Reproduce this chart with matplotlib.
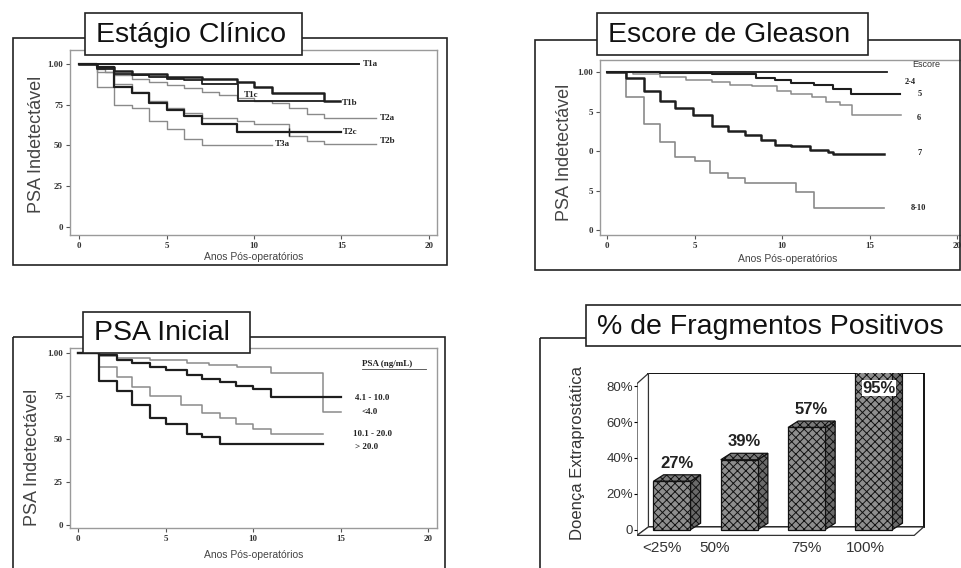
import matplotlib
matplotlib.use('Agg')
import matplotlib.pyplot as plt
from matplotlib.patches import Rectangle, Polygon

W, H = 962, 568

# --- Estágio Clínico (Kaplan-Meier) ---
t1a_t = [0, 16]
t1a_s = [1.0, 1.0]
t1b_t = [0, 1, 2, 3, 5, 7, 9, 10, 11, 14, 14.9]
t1b_s = [1.0, 0.98, 0.96, 0.94, 0.92, 0.91, 0.89, 0.86, 0.82, 0.77, 0.77]
t1c_t = [0, 1, 2, 3, 4, 5, 6, 7, 9.1, 14]
t1c_s = [1.0, 0.97, 0.94, 0.93, 0.92, 0.91, 0.90, 0.88, 0.77, 0.77]
t2a_t = [0, 1, 1.5, 2, 3, 4, 5, 6, 7, 8, 9, 10, 11, 12, 13, 14, 17]
t2a_s = [1.0, 0.97, 0.95, 0.93, 0.91, 0.89, 0.87, 0.85, 0.83, 0.81, 0.79, 0.77, 0.76, 0.73, 0.69, 0.67, 0.67]
t2b_t = [0, 1, 2, 3, 4, 5, 6, 7, 9, 10, 12, 13, 14, 17]
t2b_s = [1.0, 0.95, 0.88, 0.83, 0.77, 0.73, 0.70, 0.67, 0.65, 0.63, 0.56, 0.53, 0.51, 0.51]
t2c_t = [0, 1, 2, 3, 4, 5, 6, 7, 9, 15]
t2c_s = [1.0, 0.98, 0.86, 0.82, 0.76, 0.72, 0.68, 0.63, 0.58, 0.58]
t2c_cens = [12]
t3a_t = [0, 1, 2, 3, 4, 5, 6, 7, 11]
t3a_s = [1.0, 0.86, 0.75, 0.73, 0.65, 0.60, 0.54, 0.50, 0.50]

# --- Escore de Gleason ---
g24_t = [0, 16]
g24_s = [1.0, 1.0]
g5_t = [0, 3, 6, 7.5, 8.5, 9.6, 10.5, 11.8, 12.9, 13.9, 16.7]
g5_s = [1.0, 0.995, 0.99, 0.985, 0.965, 0.95, 0.93, 0.915, 0.895, 0.86, 0.86]
g6_t = [0, 1.5, 3, 4.5, 6, 7, 8.3, 9.7, 10.5, 11.7, 12.5, 13.3, 14, 16.8]
g6_s = [1.0, 0.99, 0.97, 0.95, 0.94, 0.92, 0.91, 0.88, 0.86, 0.84, 0.81, 0.79, 0.73, 0.73]
g7_t = [0, 1.1, 2.1, 3, 3.9, 4.9, 6, 6.9, 7.9, 8.8, 9.6, 10.5, 11.6, 12.6, 12.9, 15.8]
g7_s = [1.0, 0.96, 0.88, 0.82, 0.77, 0.73, 0.66, 0.63, 0.60, 0.57, 0.54, 0.53, 0.51, 0.495, 0.48, 0.48]
g810_t = [0, 1.1, 2.1, 3, 3.9, 5, 5.9, 6.9, 7.9, 10.8, 11.8, 15.8]
g810_s = [1.0, 0.84, 0.67, 0.56, 0.46, 0.44, 0.36, 0.33, 0.30, 0.24, 0.14, 0.14]

# --- PSA Inicial ---
plt4_t = [0, 1.2, 2.2, 4.1, 6.2, 7.5, 9.1, 11, 14, 15]
plt4_s = [1.0, 0.98, 0.97, 0.96, 0.94, 0.93, 0.92, 0.885, 0.655, 0.655]
p4_10_t = [0, 1.2, 2.2, 3.1, 4.1, 5, 6.2, 7.1, 8.1, 9, 10, 11, 15]
p4_10_s = [1.0, 0.99, 0.96, 0.94, 0.92, 0.90, 0.87, 0.85, 0.83, 0.81, 0.79, 0.745, 0.745]
p10_20_t = [0, 1.2, 2.2, 3.1, 4.1, 5.9, 7.1, 8.1, 9, 10, 11, 14]
p10_20_s = [1.0, 0.92, 0.86, 0.80, 0.75, 0.70, 0.65, 0.62, 0.59, 0.56, 0.53, 0.53]
pgt20_t = [0, 1.2, 2.2, 3.1, 4.1, 5, 6.2, 7.1, 8.1, 14]
pgt20_s = [1.0, 0.84, 0.78, 0.70, 0.62, 0.59, 0.53, 0.51, 0.47, 0.47]

# --- % de Fragmentos Positivos ---
frag_cats = ['<25%', '50%', '75%', '100%']
frag_vals = [27, 39, 57, 95]

DARK = '#1e1e1e'
GRAY = '#8a8a8a'
SERIF = 'Liberation Serif'
SANS = 'Liberation Sans'

plt.rcParams['hatch.color'] = '#2a2a2a'
plt.rcParams['hatch.linewidth'] = 0.7

fig = plt.figure(figsize=(W / 100, H / 100), dpi=100)


def px_axes(left, top, right, bottom, z=1):
    return fig.add_axes([left / W, 1 - bottom / H, (right - left) / W, (bottom - top) / H], zorder=z)


def km_setup(ax, xlim, ylim, yticklabels, xticklabels, ylab_xy, xlab_y):
    ax.set_xlim(xlim)
    ax.set_ylim(ylim)
    ax.set_xticks([0, 5, 10, 15, 20])
    ax.set_xticklabels(xticklabels)
    ax.set_yticks([1.0, 0.75, 0.5, 0.25, 0])
    ax.set_yticklabels(yticklabels)
    for lab in ax.get_xticklabels() + ax.get_yticklabels():
        lab.set_fontfamily(SERIF)
        lab.set_fontsize(6.5)
        lab.set_fontweight('bold')
        lab.set_color('#333333')
    ax.tick_params(length=3, width=0.8, pad=2, color='#555555')
    for sp in ax.spines.values():
        sp.set_color('#9a9a9a')
        sp.set_linewidth(1.0)
    ax.set_ylabel('PSA Indetectável', fontfamily=SANS, fontsize=13, color='#444444')
    ax.yaxis.set_label_coords(*ylab_xy)
    ax.set_xlabel('Anos Pós-operatórios', fontfamily=SANS, fontsize=7.5, color='#444444')
    ax.xaxis.set_label_coords(0.5, xlab_y)


def curve_label(ax, x, y, s, size=6.5):
    ax.text(x, y, s, fontfamily=SERIF, fontsize=size, fontweight='bold', color='#222222',
            ha='left', va='center')


# ---------------- panel 1 ----------------
ax1 = px_axes(70, 50, 437, 235)
km_setup(ax1, (-0.52, 20.46), (-0.05, 1.086), ['1.00', '75', '50', '25', '0'],
         ['0', '5', '10', '15', '20'], (-0.068, 0.49), -0.092)
ax1.step(t2a_t, t2a_s, where='post', color=GRAY, lw=1.0)
ax1.step(t2b_t, t2b_s, where='post', color=GRAY, lw=1.0)
ax1.step(t3a_t, t3a_s, where='post', color=GRAY, lw=1.0)
ax1.step(t1a_t, t1a_s, where='post', color=DARK, lw=1.4)
ax1.step(t1c_t, t1c_s, where='post', color=DARK, lw=1.3)
ax1.step(t1b_t, t1b_s, where='post', color=DARK, lw=1.8)
ax1.step(t2c_t, t2c_s, where='post', color=DARK, lw=1.6)
ax1.plot(t2c_cens, [t2c_s[-1]] * len(t2c_cens), '|', color=DARK, ms=6, mew=1)
curve_label(ax1, t1a_t[-1] + 0.2, t1a_s[-1], 'T1a')
curve_label(ax1, t1b_t[-1] + 0.1, t1b_s[-1] - 0.01, 'T1b')
curve_label(ax1, 9.4, 0.81, 'T1c')
curve_label(ax1, t2a_t[-1] + 0.2, t2a_s[-1], 'T2a')
curve_label(ax1, t2c_t[-1] + 0.1, t2c_s[-1], 'T2c')
curve_label(ax1, t2b_t[-1] + 0.2, t2b_s[-1] + 0.02, 'T2b')
curve_label(ax1, t3a_t[-1] + 0.2, t3a_s[-1] + 0.01, 'T3a')

# ---------------- panel 2 ----------------
ax2 = px_axes(600, 60, 975, 235)
km_setup(ax2, (-0.4, 21.0), (-0.03, 1.076), ['1.00', '5', '0', '5', '0'],
         ['0', '5', '10', '15', '20'], (-0.072, 0.47), -0.109)
ax2.spines['right'].set_visible(False)
ax2.step(g6_t, g6_s, where='post', color=GRAY, lw=1.1)
ax2.step(g810_t, g810_s, where='post', color=GRAY, lw=1.2)
ax2.step(g24_t, g24_s, where='post', color=DARK, lw=1.3)
ax2.step(g5_t, g5_s, where='post', color=DARK, lw=1.5)
ax2.step(g7_t, g7_s, where='post', color=DARK, lw=1.8)
curve_label(ax2, 17.0, g24_s[-1] - 0.06, '2-4', 6)
curve_label(ax2, 17.7, g5_s[-1], '5', 6)
curve_label(ax2, 17.7, g6_s[-1] - 0.02, '6', 6)
curve_label(ax2, 17.7, g7_s[-1] + 0.01, '7', 6)
curve_label(ax2, 17.35, g810_s[-1], '8-10', 6)
ax2.text(17.4, 1.045, 'Escore', fontfamily=SANS, fontsize=6.5, color='#333333', va='center')

# ---------------- panel 3 ----------------
ax3 = px_axes(70, 348, 437, 528)
km_setup(ax3, (-0.46, 20.51), (-0.017, 1.029), ['1.00', '75', '50', '25', '0'],
         ['0', '5', '10', '15', '20'], (-0.079, 0.39), -0.122)
ax3.step(plt4_t, plt4_s, where='post', color=GRAY, lw=1.1)
ax3.step(p10_20_t, p10_20_s, where='post', color=GRAY, lw=1.1)
ax3.step(p4_10_t, p4_10_s, where='post', color=DARK, lw=1.6)
ax3.step(pgt20_t, pgt20_s, where='post', color=DARK, lw=1.6)
ax3.text(16.2, 0.935, 'PSA (ng/mL)', fontfamily=SERIF, fontsize=6.5, fontweight='bold',
         color='#222222', va='center')
ax3.plot([16.2, 19.9], [0.905, 0.905], color='#444444', lw=0.6)
curve_label(ax3, 15.8, 0.738, '4.1 - 10.0')
curve_label(ax3, 16.2, 0.655, '<4.0')
curve_label(ax3, 15.7, 0.53, '10.1 - 20.0')
curve_label(ax3, 15.8, 0.456, '> 20.0')

# ---------------- panel 4 (pseudo 3D bars) ----------------
ax4 = px_axes(637, 373, 925, 537)
ax4.set_xlim(-0.52, 3.76)
ax4.set_ylim(-4.1, 87.4)
for sp in ax4.spines.values():
    sp.set_visible(False)
# back wall, left wall, floor
ax4.add_patch(Rectangle((-0.35, 1.5), 4.09, 85.7, fill=False, ec='black', lw=1.3))
ax4.add_patch(Polygon([(-0.52, -3.2), (-0.52, 81.5), (-0.35, 87.2), (-0.35, 1.5)],
                      closed=True, fc='white', ec='#333333', lw=0.9))
ax4.add_patch(Polygon([(-0.52, -3.2), (3.6, -3.2), (3.74, 1.5), (-0.35, 1.5)],
                      closed=True, fc='white', ec='#333333', lw=0.9))
xs = list(range(len(frag_vals)))
bw, dx, dy = 0.55, 0.15, 3.6
bars = ax4.bar(xs, frag_vals, width=bw, color='#8e8e8e', edgecolor='#111111', lw=0.9,
               hatch='xxxx', zorder=3)
for b in bars:
    x0, x1, top = b.get_x(), b.get_x() + b.get_width(), b.get_height()
    ax4.add_patch(Polygon([(x1, 0), (x1 + dx, dy), (x1 + dx, top + dy), (x1, top)],
                          closed=True, fc='#6a6a6a', ec='#111111', lw=0.9, hatch='xxxx', zorder=2))
    ax4.add_patch(Polygon([(x0, top), (x0 + dx, top + dy), (x1 + dx, top + dy), (x1, top)],
                          closed=True, fc='#7a7a7a', ec='#111111', lw=0.9, hatch='xxxx', zorder=2))
for x, v in zip(xs, frag_vals):
    ty = min(v + 10, 79)
    bbox = dict(fc='white', ec='none', pad=0.5) if v > 80 else None
    ax4.text(x + dx / 2, ty, f'{v}%', ha='center', va='center', fontfamily=SANS,
             fontsize=12, fontweight='bold', color='#222222', bbox=bbox, zorder=5)
ax4.set_xticks([-0.15, 0.64, 2.0, 2.87])
ax4.set_xticklabels(frag_cats, fontfamily=SANS, fontsize=11, color='#333333')
ax4.set_yticks([0, 20, 40, 60, 80])
ax4.set_yticklabels(['0', '20%', '40%', '60%', '80%'], fontfamily=SANS, fontsize=9.5, color='#333333')
ax4.tick_params(axis='x', length=0, pad=3)
ax4.tick_params(axis='y', length=2, pad=1)
ax4.set_ylabel('Doença Extraprostática', fontfamily=SANS, fontsize=12, color='#333333')
ax4.yaxis.set_label_coords(-0.18, 0.51)

# ---------------- frames and title boxes ----------------
ov = fig.add_axes([0, 0, 1, 1], zorder=10)
ov.set_xlim(0, W)
ov.set_ylim(H, 0)
ov.axis('off')
ov.patch.set_alpha(0)
frames = [(13, 38, 447, 265), (535, 40, 960, 270), (13, 337, 445, 575), (540, 338, 975, 575)]
for l, t, r, b in frames:
    ov.add_patch(Rectangle((l, t), r - l, b - t, fill=False, ec='#222222', lw=1.2))
titles = [('Estágio Clínico', 85, 13, 302, 55), ('Escore de Gleason', 597, 13, 868, 55),
          ('PSA Inicial', 83, 312, 250, 353), ('% de Fragmentos Positivos', 586, 305, 975, 346)]
for s, l, t, r, b in titles:
    ov.add_patch(Rectangle((l, t), r - l, b - t, fc='white', ec='#222222', lw=1.2))
    ov.text(l + 11, (t + b) / 2 + 1, s, fontfamily=SANS, fontsize=20.5, color='#111111',
            ha='left', va='center')

fig.savefig('out.png', dpi=100, facecolor='white')
